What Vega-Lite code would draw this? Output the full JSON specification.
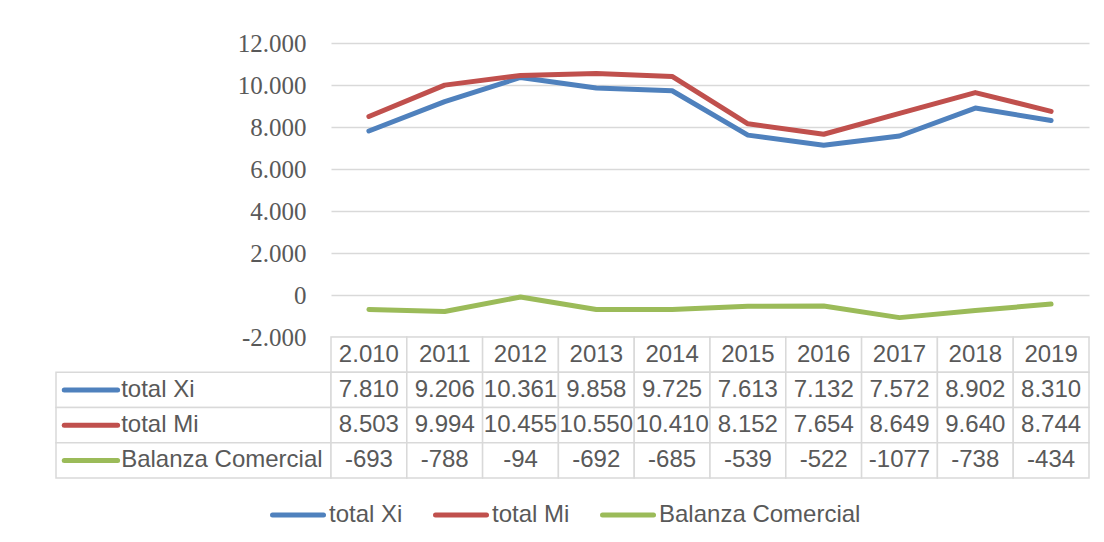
{
  "$schema": "https://vega.github.io/schema/vega-lite/v6.json",
  "background": "white",
  "padding": {"left": 55, "top": 31, "right": 16, "bottom": 10},
  "datasets": {
    "series": [
      {"year": "2010", "series": "total Xi", "value": 7810, "txt": "7.810"},
      {"year": "2011", "series": "total Xi", "value": 9206, "txt": "9.206"},
      {"year": "2012", "series": "total Xi", "value": 10361, "txt": "10.361"},
      {"year": "2013", "series": "total Xi", "value": 9858, "txt": "9.858"},
      {"year": "2014", "series": "total Xi", "value": 9725, "txt": "9.725"},
      {"year": "2015", "series": "total Xi", "value": 7613, "txt": "7.613"},
      {"year": "2016", "series": "total Xi", "value": 7132, "txt": "7.132"},
      {"year": "2017", "series": "total Xi", "value": 7572, "txt": "7.572"},
      {"year": "2018", "series": "total Xi", "value": 8902, "txt": "8.902"},
      {"year": "2019", "series": "total Xi", "value": 8310, "txt": "8.310"},
      {"year": "2010", "series": "total Mi", "value": 8503, "txt": "8.503"},
      {"year": "2011", "series": "total Mi", "value": 9994, "txt": "9.994"},
      {"year": "2012", "series": "total Mi", "value": 10455, "txt": "10.455"},
      {"year": "2013", "series": "total Mi", "value": 10550, "txt": "10.550"},
      {"year": "2014", "series": "total Mi", "value": 10410, "txt": "10.410"},
      {"year": "2015", "series": "total Mi", "value": 8152, "txt": "8.152"},
      {"year": "2016", "series": "total Mi", "value": 7654, "txt": "7.654"},
      {"year": "2017", "series": "total Mi", "value": 8649, "txt": "8.649"},
      {"year": "2018", "series": "total Mi", "value": 9640, "txt": "9.640"},
      {"year": "2019", "series": "total Mi", "value": 8744, "txt": "8.744"},
      {"year": "2010", "series": "Balanza Comercial", "value": -693, "txt": "-693"},
      {"year": "2011", "series": "Balanza Comercial", "value": -788, "txt": "-788"},
      {"year": "2012", "series": "Balanza Comercial", "value": -94, "txt": "-94"},
      {"year": "2013", "series": "Balanza Comercial", "value": -692, "txt": "-692"},
      {"year": "2014", "series": "Balanza Comercial", "value": -685, "txt": "-685"},
      {"year": "2015", "series": "Balanza Comercial", "value": -539, "txt": "-539"},
      {"year": "2016", "series": "Balanza Comercial", "value": -522, "txt": "-522"},
      {"year": "2017", "series": "Balanza Comercial", "value": -1077, "txt": "-1077"},
      {"year": "2018", "series": "Balanza Comercial", "value": -738, "txt": "-738"},
      {"year": "2019", "series": "Balanza Comercial", "value": -434, "txt": "-434"}
    ],
    "years": [
      {"year": "2010", "label": "2.010"},
      {"year": "2011", "label": "2011"},
      {"year": "2012", "label": "2012"},
      {"year": "2013", "label": "2013"},
      {"year": "2014", "label": "2014"},
      {"year": "2015", "label": "2015"},
      {"year": "2016", "label": "2016"},
      {"year": "2017", "label": "2017"},
      {"year": "2018", "label": "2018"},
      {"year": "2019", "label": "2019"}
    ]
  },
  "columns": 2,
  "spacing": 0,
  "bounds": "flush",
  "resolve": {"scale": {"x": "independent", "y": "independent", "color": "shared"}},
  "concat": [
    {
      "width": 275,
      "height": 294,
      "data": {"values": []},
      "mark": "point",
      "encoding": {}
    },
    {
      "width": 758,
      "height": 294,
      "data": {"name": "series"},
      "mark": {"type": "line", "strokeWidth": 5, "strokeCap": "round", "strokeJoin": "round"},
      "encoding": {
        "x": {"field": "year", "type": "ordinal", "scale": {"type": "point", "padding": 0.5}, "axis": null},
        "y": {
          "field": "value", "type": "quantitative",
          "scale": {"domain": [-2000, 12000], "nice": false, "zero": false},
          "axis": {
            "values": [-2000, 0, 2000, 4000, 6000, 8000, 10000, 12000],
            "format": ",d", "title": null, "domain": false, "ticks": false,
            "labelFont": "Liberation Serif", "labelFontSize": 25, "labelColor": "#595959",
            "labelPadding": 25, "gridColor": "#d9d9d9", "gridWidth": 1.5
          }
        },
        "color": {
          "field": "series", "type": "nominal",
          "scale": {"domain": ["total Xi", "total Mi", "Balanza Comercial"], "range": ["#4F81BD", "#C0504D", "#9BBB59"]},
          "legend": {
            "title": null, "orient": "none", "direction": "horizontal",
            "legendX": 214, "legendY": 444,
            "symbolType": "stroke", "symbolSize": 2601, "symbolStrokeWidth": 5,
            "labelFont": "Liberation Sans", "labelFontSize": 24, "labelColor": "#595959",
            "labelOffset": 3, "columnPadding": 22, "labelLimit": 400,
            "encode": {"symbols": {"update": {"strokeCap": {"value": "round"}}}}
          }
        }
      }
    },
    {
      "width": 275,
      "height": 141,
      "data": {"name": "series"},
      "transform": [{"filter": "datum.year == '2010'"}],
      "encoding": {
        "y": {"field": "series", "type": "nominal",
              "scale": {"domain": ["hdr", "total Xi", "total Mi", "Balanza Comercial"], "paddingInner": 0, "paddingOuter": 0},
              "axis": null}
      },
      "layer": [
        {
          "mark": {"type": "rect", "fill": "white", "stroke": "#d9d9d9", "strokeWidth": 1.5},
          "encoding": {
            "x": {"datum": 0, "type": "quantitative", "scale": {"domain": [0, 1], "nice": false, "zero": false}, "axis": null},
            "x2": {"datum": 1}
          }
        },
        {
          "mark": {"type": "rule", "strokeWidth": 5, "strokeCap": "round"},
          "encoding": {
            "x": {"datum": 0.03, "type": "quantitative"},
            "x2": {"datum": 0.224},
            "y": {"field": "series", "type": "nominal", "bandPosition": 0.5},
            "color": {"field": "series", "type": "nominal"}
          }
        },
        {
          "mark": {"type": "text", "align": "left", "font": "Liberation Sans", "fontSize": 24, "color": "#595959"},
          "encoding": {
            "x": {"datum": 0.237, "type": "quantitative"},
            "text": {"field": "series"}
          }
        }
      ]
    },
    {
      "width": 758,
      "height": 141,
      "encoding": {
        "x": {"field": "year", "type": "ordinal", "scale": {"type": "band", "paddingInner": 0, "paddingOuter": 0}, "axis": null}
      },
      "layer": [
        {
          "data": {"name": "years"},
          "mark": {"type": "rect", "fill": "white", "stroke": "#d9d9d9", "strokeWidth": 1.5},
          "encoding": {
            "y": {"datum": "hdr", "type": "nominal",
                  "scale": {"domain": ["hdr", "total Xi", "total Mi", "Balanza Comercial"], "paddingInner": 0, "paddingOuter": 0},
                  "axis": null}
          }
        },
        {
          "data": {"name": "years"},
          "mark": {"type": "text", "font": "Liberation Sans", "fontSize": 24, "color": "#595959"},
          "encoding": {
            "y": {"datum": "hdr", "type": "nominal"},
            "text": {"field": "label"}
          }
        },
        {
          "data": {"name": "series"},
          "mark": {"type": "rect", "fill": "white", "stroke": "#d9d9d9", "strokeWidth": 1.5},
          "encoding": {
            "y": {"field": "series", "type": "nominal"}
          }
        },
        {
          "data": {"name": "series"},
          "mark": {"type": "text", "font": "Liberation Sans", "fontSize": 24, "color": "#595959"},
          "encoding": {
            "y": {"field": "series", "type": "nominal"},
            "text": {"field": "txt"}
          }
        }
      ]
    }
  ],
  "config": {
    "view": {"stroke": null},
    "font": "Liberation Sans",
    "locale": {"number": {"decimal": ",", "thousands": ".", "grouping": [3], "currency": ["", ""], "minus": "-"}}
  }
}
